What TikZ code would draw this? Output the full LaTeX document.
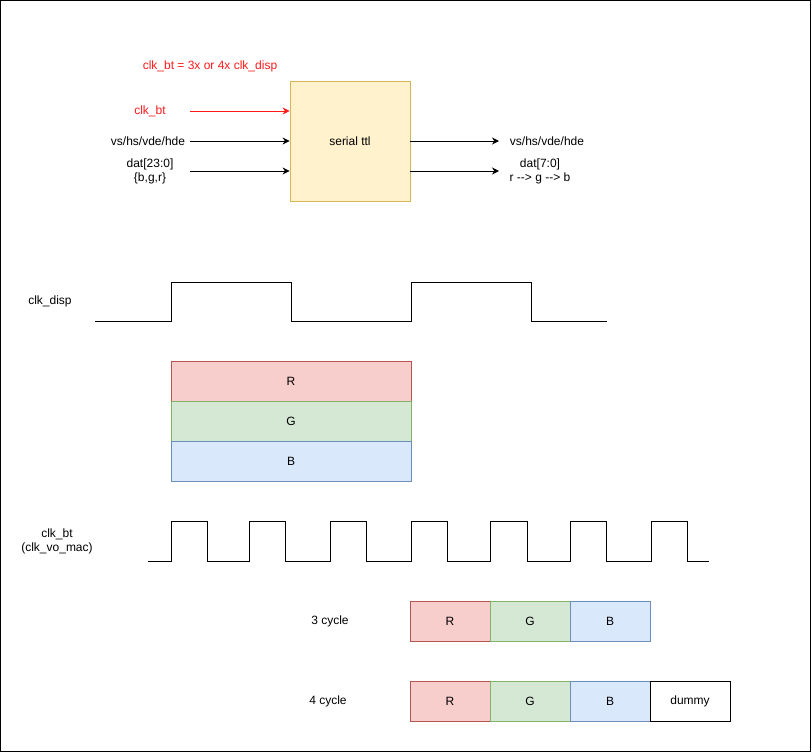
\documentclass[tikz,border=0pt]{standalone}
\usepackage{fontspec}
\setmainfont{Liberation Sans}
\usetikzlibrary{arrows.meta,positioning}
\definecolor{ttlfill}{HTML}{FFF2CC}
\definecolor{ttldraw}{HTML}{D6B656}
\definecolor{rfill}{HTML}{F8CECC}
\definecolor{rdraw}{HTML}{B85450}
\definecolor{gfill}{HTML}{D5E8D4}
\definecolor{gdraw}{HTML}{82B366}
\definecolor{bfill}{HTML}{DAE8FC}
\definecolor{bdraw}{HTML}{6C8EBF}
\definecolor{sigred}{HTML}{FF1A1A}
\tikzstyle{lbl}=[inner sep=0pt, align=center, font=\fontsize{12}{14}\selectfont]
\tikzstyle{ttlbox}=[lbl, draw=ttldraw, fill=ttlfill, line width=0.8pt, minimum width=120pt, minimum height=120pt]
\tikzstyle{cell}=[lbl, draw, line width=0.8pt, minimum width=80pt, minimum height=40pt, outer sep=0pt]
\tikzstyle{rcell}=[cell, draw=rdraw, fill=rfill]
\tikzstyle{gcell}=[cell, draw=gdraw, fill=gfill]
\tikzstyle{bcell}=[cell, draw=bdraw, fill=bfill]
\tikzstyle{sig}=[-{Stealth[length=7pt,width=7pt]}, line width=0.8pt]
\tikzstyle{wave}=[line width=0.9pt]

\begin{document}
\begin{tikzpicture}[x=1pt,y=-1pt]
\useasboundingbox (0,0) rectangle (812,753);
\draw[line width=0.8pt] (0.5,0.5) rectangle (810.5,751.5);

% serial ttl
\node[ttlbox] (ttl) at (350,141) {serial ttl};
\node[lbl, text=sigred] (ratio) at (210,66) {clk\_bt = 3x or 4x clk\_disp};

\node[lbl, text=sigred] (clkin) at (150,111) {clk\_bt};
\node[lbl] (vsin) at (148,141) {vs/hs/vde/hde};
\node[lbl] (datin) at (150,171) {dat[23:0]\\\{b,g,r\}};
\coordinate (clkst) at (190,111);
\coordinate (vsst) at (190,141);
\coordinate (datst) at (190,171);
\draw[sig, sigred] (clkst) -- (clkst -| ttl.west);
\draw[sig] (vsst) -- (vsst -| ttl.west);
\draw[sig] (datst) -- (datst -| ttl.west);

\node[lbl] (vsout) at (547,141) {vs/hs/vde/hde};
\node[lbl] (datout) at (540,171) {dat[7:0]\\r {-}{-}> g {-}{-}> b};
\coordinate (vsend) at (499,141);
\coordinate (datend) at (499,171);
\draw[sig] (ttl.east |- vsend) -- (vsend);
\draw[sig] (ttl.east |- datend) -- (datend);

% clk_disp
\node[lbl] (displbl) at (50,301) {clk\_disp};
\draw[wave] (95,321) -- (171,321) -- (171,282) -- (291,282) -- (291,321)
    -- (411,321) -- (411,282) -- (531,282) -- (531,321) -- (607,321);

\node[rcell, minimum width=240pt] (dispr) at (291,381) {R};
\node[gcell, minimum width=240pt] (dispg) at (291,421) {G};
\node[bcell, minimum width=240pt] (dispb) at (291,461) {B};

% clk_bt
\node[lbl] (btlbl) at (57,541) {clk\_bt\\(clk\_vo\_mac)};
\draw[wave] (148,561)
    \foreach \r/\f in {171/207,249/285,330/366,411/447,490/527,570/606,651/687}
    { -- (\r,561) -- (\r,521) -- (\f,521) -- (\f,561) } -- (709,561);

% cycles
\node[lbl] (cyc3) at (330,621) {3 cycle};
\node[rcell] (r3) at (450,621) {R};
\node[gcell] (g3) at (530,621) {G};
\node[bcell] (b3) at (610,621) {B};

\node[lbl] (cyc4) at (328,701) {4 cycle};
\node[rcell] (r4) at (450,701) {R};
\node[gcell] (g4) at (530,701) {G};
\node[bcell] (b4) at (610,701) {B};
\node[cell] (d4) at (690,701) {dummy};

\end{tikzpicture}
\end{document}
